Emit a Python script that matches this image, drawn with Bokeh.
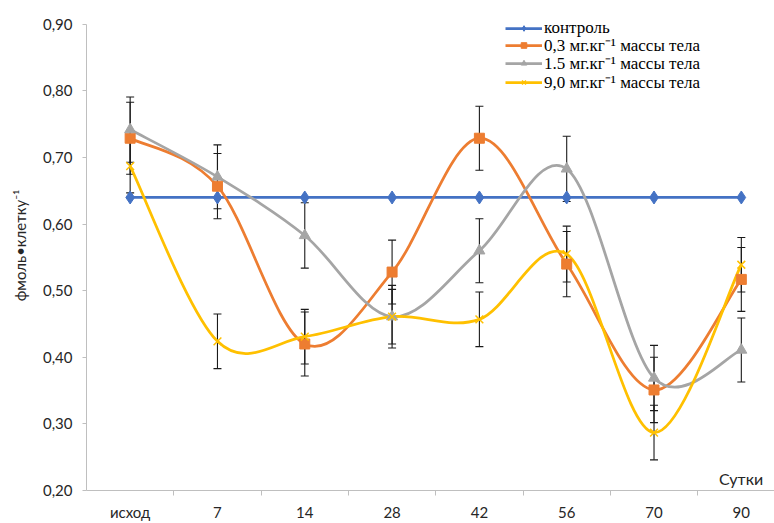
import numpy as np
from bokeh.plotting import figure
from bokeh.models import (ColumnDataSource, FixedTicker, Legend, LegendItem,
                          Whisker, TeeHead, Label, Range1d)
from bokeh.embed import file_html
from bokeh.resources import INLINE

# ---------------- data ----------------
categories = ["исход", "7", "14", "28", "42", "56", "70", "90"]
control = [0.64, 0.64, 0.64, 0.64, 0.64, 0.64, 0.64, 0.64]
dose_03 = [0.729, 0.657, 0.420, 0.528, 0.729, 0.540, 0.351, 0.517]
dose_03_err = [0.054, 0.049, 0.048, 0.048, 0.048, 0.049, 0.049, 0.048]
dose_15 = [0.742, 0.671, 0.583, 0.461, 0.560, 0.683, 0.369, 0.411]
dose_15_err = [0.049, 0.048, 0.049, 0.047, 0.048, 0.049, 0.049, 0.048]
dose_90 = [0.687, 0.424, 0.431, 0.461, 0.457, 0.555, 0.287, 0.539]
dose_90_err = [0.040, 0.041, 0.041, 0.041, 0.041, 0.042, 0.041, 0.041]
series_names = ["контроль", "0,3 мг.кг⁻¹ массы тела",
                "1.5 мг.кг⁻¹ массы тела", "9,0 мг.кг⁻¹ массы тела"]
y_ticks = [0.2, 0.3, 0.4, 0.5, 0.6, 0.7, 0.8, 0.9]
y_tick_labels = ["0,20", "0,30", "0,40", "0,50", "0,60", "0,70", "0,80", "0,90"]
y_title = "фмоль•клетку⁻¹"
x_title = "Сутки"

BLUE, ORANGE, GRAY, YELLOW = "#4472C4", "#ED7D31", "#A5A5A5", "#FFC000"
AXIS = "#BFBFBF"
TXT = "#262626"

x = list(range(len(categories)))

# frame spans full height above the axis; 0.90 sits 24 px below the top
p = figure(width=774, height=523, output_backend="svg", toolbar_location=None,
           x_range=Range1d(-0.5, 7.38), y_range=Range1d(0.2, 0.9 + 24 / 670),
           min_border_left=86, min_border_right=0, min_border_top=0,
           min_border_bottom=30, outline_line_color=None)
p.xgrid.visible = False
p.ygrid.visible = False
p.background_fill_color = "white"
p.border_fill_color = "white"


def smooth_source(xs, ys):
    n = len(xs)
    d = dict(x0=[], y0=[], x1=[], y1=[], cx0=[], cy0=[], cx1=[], cy1=[])
    for i in range(n - 1):
        a = i - 1 if i > 0 else i
        b = i + 2 if i + 2 < n else i + 1
        d["x0"].append(xs[i]); d["y0"].append(ys[i])
        d["x1"].append(xs[i + 1]); d["y1"].append(ys[i + 1])
        d["cx0"].append(xs[i] + (xs[i + 1] - xs[a]) / 6)
        d["cy0"].append(ys[i] + (ys[i + 1] - ys[a]) / 6)
        d["cx1"].append(xs[i + 1] - (xs[b] - xs[i]) / 6)
        d["cy1"].append(ys[i + 1] - (ys[b] - ys[i]) / 6)
    return ColumnDataSource(d)


LW = 2.75
items = []

# control (straight)
r_c = p.line(x, control, line_color=BLUE, line_width=LW)
m_c = p.scatter(x, control, marker="diamond", size=13, fill_color=BLUE,
                line_color=BLUE)
items.append(LegendItem(label=series_names[0], renderers=[r_c, m_c]))

series = [(dose_03, dose_03_err, ORANGE, "square", 10),
          (dose_15, dose_15_err, GRAY, "triangle", 11),
          (dose_90, dose_90_err, YELLOW, "x", 11)]

line_rs = []
for k, (ys, es, col, mk, sz) in enumerate(series):
    src = smooth_source(x, ys)
    r = p.bezier(x0="x0", y0="y0", x1="x1", y1="y1", cx0="cx0", cy0="cy0",
                 cx1="cx1", cy1="cy1", source=src, line_color=col, line_width=LW)
    line_rs.append(r)

marker_rs = []
for k, (ys, es, col, mk, sz) in enumerate(series):
    if mk == "x":
        m = p.scatter(x, ys, marker=mk, size=sz, line_color=col, line_width=1.5)
    else:
        m = p.scatter(x, ys, marker=mk, size=sz, fill_color=col, line_color=col)
    marker_rs.append(m)
    items.append(LegendItem(label=series_names[k + 1], renderers=[line_rs[k], m]))

# error bars
for ys, es, col, mk, sz in series:
    esrc = ColumnDataSource(dict(x=x, upper=[a + b for a, b in zip(ys, es)],
                                 lower=[a - b for a, b in zip(ys, es)]))
    w = Whisker(base="x", upper="upper", lower="lower", source=esrc,
                dimension="height", line_color="#1a1a1a", line_width=1.1,
                upper_head=TeeHead(size=8, line_color="#1a1a1a", line_width=1.1),
                lower_head=TeeHead(size=8, line_color="#1a1a1a", line_width=1.1))
    p.add_layout(w)

# axes
xa = p.xaxis[0]
xa.ticker = FixedTicker(ticks=x, minor_ticks=[i + 0.5 for i in x[:-1]])
xa.major_label_overrides = {i: c for i, c in zip(x, categories)}
xa.major_tick_line_color = None
xa.major_tick_out = 0
xa.minor_tick_out = 5
xa.minor_tick_in = 0
xa.minor_tick_line_color = AXIS
xa.axis_line_color = AXIS
xa.major_label_standoff = 7
xa.major_label_text_font = "Lato"
xa.major_label_text_font_size = "15px"
xa.major_label_text_color = TXT

ya = p.yaxis[0]
ya.ticker = FixedTicker(ticks=y_ticks, minor_ticks=[])
ya.bounds = (0.2, 0.9)
ya.major_label_overrides = {t: l for t, l in zip(y_ticks, y_tick_labels)}
ya.major_tick_out = 4
ya.major_tick_in = 0
ya.major_tick_line_color = AXIS
ya.axis_line_color = AXIS
ya.major_label_standoff = 10
ya.major_label_text_font = "Lato"
ya.major_label_text_font_size = "15px"
ya.major_label_text_color = TXT
ya.axis_label = y_title
ya.axis_label_text_font = "Lato"
ya.axis_label_text_font_size = "15px"
ya.axis_label_text_font_style = "normal"
ya.axis_label_text_color = TXT
ya.axis_label_standoff = 11

p.add_layout(Label(x=7.25, y=0.2, y_offset=3, text=x_title, text_align="right",
                   text_baseline="bottom", text_font="Lato",
                   text_font_size="16px", text_color=TXT))

# one single-item legend per row, to match the tight row pitch
legend_rows_y = [452, 434, 416, 397]
for item, ly in zip(items, legend_rows_y):
    lg = Legend(items=[item], location=(419, ly), orientation="vertical",
                glyph_width=37, glyph_height=14, label_height=14,
                label_standoff=2, spacing=0, padding=0, margin=0,
                background_fill_alpha=0, border_line_color=None,
                label_text_font="Liberation Serif", label_text_font_size="17px",
                label_text_color="black")
    p.add_layout(lg)

open("out.html", "w").write(file_html(p, INLINE))
